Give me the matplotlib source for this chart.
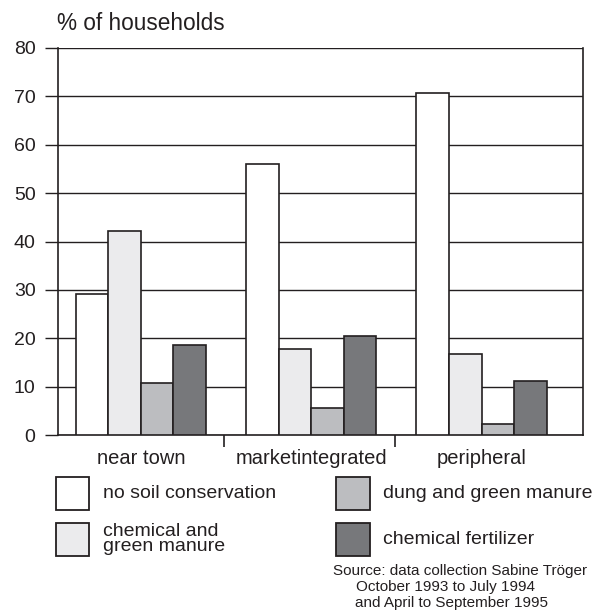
import numpy as np
import matplotlib
matplotlib.use('Agg')
import matplotlib.pyplot as plt
from matplotlib.patches import Rectangle

# Datos
categorias = ['near town', 'marketintegrated', 'peripheral']
series = ['no soil conservation', 'chemical and\ngreen manure',
          'dung and green manure', 'chemical fertilizer']
sin_conservacion = [29.1, 56.0, 70.8]
quimico_verde = [42.2, 17.8, 16.8]
estiercol_verde = [10.7, 5.5, 2.2]
fertilizante = [18.6, 20.5, 11.2]
valores = [sin_conservacion, quimico_verde, estiercol_verde, fertilizante]
yticks = [0, 10, 20, 30, 40, 50, 60, 70, 80]
fuente = ['Source: data collection Sabine Tröger',
          'October 1993 to July 1994',
          'and April to September 1995']

colores = ['#ffffff', '#ebebed', '#bcbdc0', '#77787b']
negro = '#231f20'
plt.rcParams['font.family'] = ['Liberation Sans', 'DejaVu Sans']

fig = plt.figure(figsize=(6.02, 6.15), dpi=100)
ax = fig.add_axes([58.3/602, 1-435/615, 525/602, 387/615])

x = np.arange(len(categorias))
ancho = 0.191
for i in range(len(series)):
    ax.bar(x + (i-1.5)*ancho, valores[i], ancho, color=colores[i],
           edgecolor=negro, linewidth=1.2, zorder=3)

ax.set_ylim(0, 80)
ax.set_xlim(-0.484, 2.597)
ax.set_yticks(yticks)
ax.yaxis.grid(True, color=negro, linewidth=1.0)
ax.set_axisbelow(True)
ax.tick_params(axis='y', direction='out', length=9.4, width=1.0, color=negro,
               labelsize=14, labelcolor=negro, pad=7)
ax.set_xticks(x)
ax.set_xticklabels(categorias)
ax.set_xticks([0.49, 1.49], minor=True)
ax.tick_params(axis='x', which='major', length=0, labelsize=14.5,
               labelcolor=negro, pad=10)
ax.tick_params(axis='x', which='minor', direction='out', length=8.6,
               width=1.2, color=negro)
ax.spines['top'].set_visible(False)
for s in ['left', 'right', 'bottom']:
    ax.spines[s].set_linewidth(1.2)
    ax.spines[s].set_color(negro)

fig.text(57/602, 1-30/615, '% of households', fontsize=16.3, color=negro,
         va='baseline', ha='left')

# Leyenda dibujada a mano
pos_x = [55.7, 55.7, 336, 336]
pos_y = [477.3, 522.7, 477.3, 522.7]
for i in range(len(series)):
    fig.patches.append(Rectangle((pos_x[i]/602, 1-(pos_y[i]+33)/615), 33.6/602, 33/615,
                                 transform=fig.transFigure, facecolor=colores[i],
                                 edgecolor=negro, linewidth=1.3))
    fig.text((pos_x[i]+47)/602, 1-(pos_y[i]+16.5)/615, series[i], fontsize=14,
             color=negro, va='center', ha='left', linespacing=0.86)

fig.text(333.3/602, 1-575/615, fuente[0], fontsize=11, color=negro, va='baseline')
fig.text(356/602, 1-591/615, fuente[1], fontsize=11, color=negro, va='baseline')
fig.text(355/602, 1-607/615, fuente[2], fontsize=11, color=negro, va='baseline')

fig.savefig('out.png', dpi=100)
